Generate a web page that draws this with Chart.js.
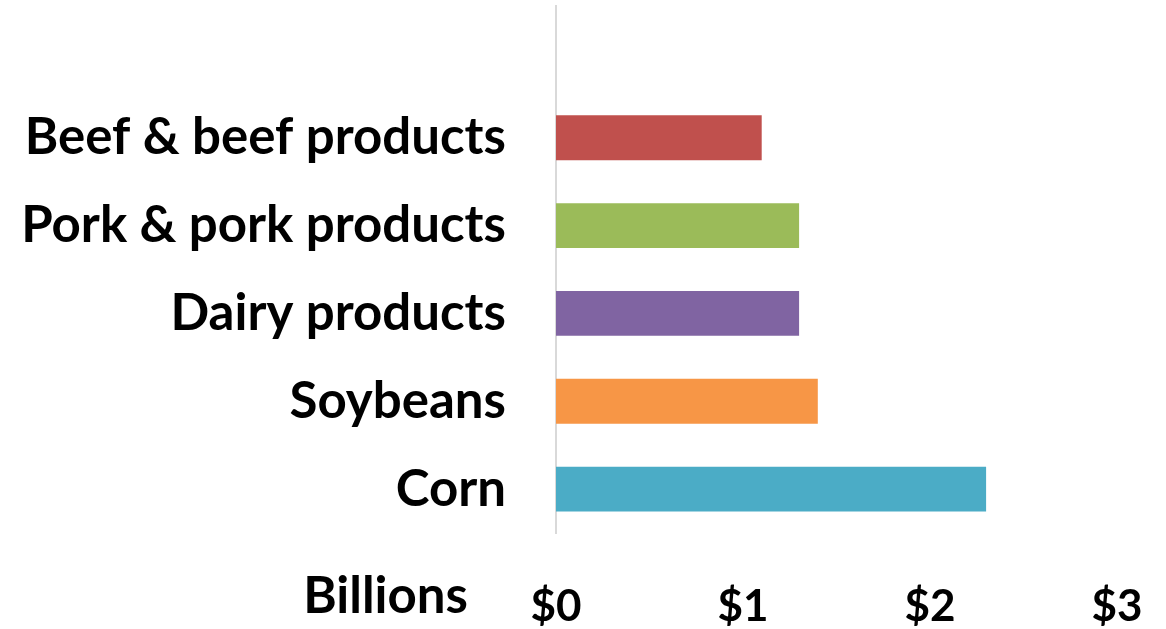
<!DOCTYPE html>
<html>
<head>
<meta charset="utf-8">
<script src="https://cdn.jsdelivr.net/npm/chart.js@4"></script>
<style>
  html, body { margin: 0; padding: 0; background: #fff; }
  #wrap { width: 1166px; height: 629px; position: relative; }
</style>
</head>
<body>
<div id="wrap"><canvas id="mainChart"></canvas></div>
<script>
// Chart data (top slot is an empty category, as in the original)
const categories = ['', 'Beef & beef products', 'Pork & pork products', 'Dairy products', 'Soybeans', 'Corn'];
const values = [null, 1.10, 1.30, 1.30, 1.40, 2.30];
const barColors = ['#ffffff', '#C0504D', '#9BBB59', '#8064A2', '#F79646', '#4BACC6'];
const tickLabels = ['$0', '$1', '$2', '$3'];
const unitLabel = 'Billions';

const labelFont = { family: 'Lato', size: 51, weight: 'bold' };
const tickFont = { family: 'Lato', size: 44, weight: 'bold' };

// draws the "Billions" unit text left of the value ticks
const unitPlugin = {
    id: 'unitLabel',
    afterDraw(chart) {
        const ctx = chart.ctx;
        ctx.save();
        ctx.font = `bold ${labelFont.size}px ${labelFont.family}`;
        ctx.fillStyle = '#000';
        ctx.textAlign = 'right';
        ctx.textBaseline = 'middle';
        ctx.fillText(unitLabel, chart.chartArea.left - 88, chart.chartArea.bottom + 64);
        ctx.restore();
    }
};

const ctx = document.getElementById('mainChart').getContext('2d');
new Chart(ctx, {
    type: 'bar',
    data: {
        labels: categories,
        datasets: [{
            data: values,
            backgroundColor: barColors,
            categoryPercentage: 1,
            barPercentage: 0.51
        }]
    },
    options: {
        indexAxis: 'y',
        responsive: true,
        maintainAspectRatio: false,
        animation: false,
        layout: { padding: { top: 6, right: 49, bottom: 2, left: 0 } },
        plugins: {
            legend: { display: false },
            tooltip: { enabled: false }
        },
        scales: {
            x: {
                min: 0,
                max: 3,
                grid: { display: false },
                border: { display: false },
                afterFit: function(scale) {
                    scale.height = 94;
                    scale.paddingLeft = 0;
                    scale.paddingRight = 0;
                },
                ticks: {
                    stepSize: 1,
                    color: '#000',
                    font: tickFont,
                    padding: 39,
                    maxRotation: 0,
                    callback: function(value) {
                        return tickLabels[value];
                    }
                }
            },
            y: {
                grid: { display: false },
                border: { color: '#d9d9d9', width: 2 },
                afterFit: function(scale) {
                    scale.width = 556;
                    scale.paddingTop = 0;
                    scale.paddingBottom = 0;
                },
                ticks: {
                    color: '#000',
                    font: labelFont,
                    padding: 42
                }
            }
        }
    },
    plugins: [unitPlugin]
});
</script>
</body>
</html>
